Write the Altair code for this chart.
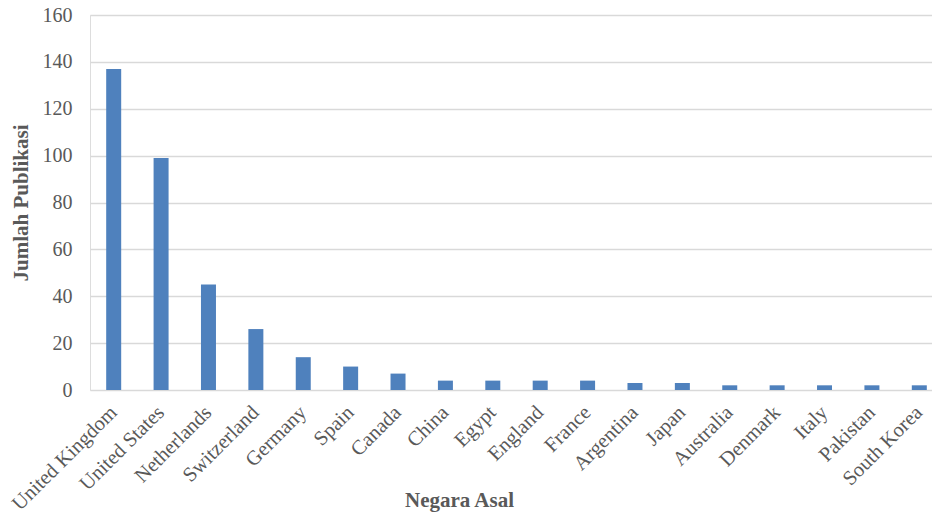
import altair as alt
import pandas as pd

countries = ["United Kingdom", "United States", "Netherlands", "Switzerland", "Germany",
             "Spain", "Canada", "China", "Egypt", "England", "France", "Argentina",
             "Japan", "Australia", "Denmark", "Italy", "Pakistan", "South Korea"]
publications = [137, 99, 45, 26, 14, 10, 7, 4, 4, 4, 4, 3, 3, 2, 2, 2, 2, 2]
y_ticks = [0, 20, 40, 60, 80, 100, 120, 140, 160]

df = pd.DataFrame({"Negara": countries, "Jumlah": publications})

FONT = "Liberation Serif"
GRAY = "#595959"

chart = alt.Chart(df).mark_bar(size=15, color="#4f81bd").encode(
    x=alt.X("Negara:N", sort=None,
            scale=alt.Scale(range=[0, 853], paddingInner=0, paddingOuter=0),
            axis=alt.Axis(title="Negara Asal", labelAngle=-45, labelAlign="right",
                          labelBaseline="middle", labelPadding=19, ticks=False, domain=False,
                          labelFont=FONT, labelFontSize=20.5, labelColor=GRAY,
                          titleFont=FONT, titleFontSize=21, titleFontWeight="bold",
                          titleColor=GRAY, titleX=369, titleY=116, titleAlign="center",
                          titleBaseline="alphabetic", labelOverlap=False)),
    y=alt.Y("Jumlah:Q", scale=alt.Scale(domain=[0, 160], nice=False),
            axis=alt.Axis(title="Jumlah Publikasi", values=y_ticks, ticks=False, domain=False,
                          labelPadding=18, labelFont=FONT, labelFontSize=20, labelColor=GRAY,
                          grid=True, gridColor="#d9d9d9", gridWidth=1.5,
                          titleFont=FONT, titleFontSize=21, titleFontWeight="bold",
                          titleColor=GRAY, titleX=-63, titleY=187.5, titleAngle=-90,
                          titleAlign="center", titleBaseline="alphabetic")),
).properties(
    width=842, height=375,
    autosize=alt.AutoSizeParams(type="none"),
    padding={"left": 90, "top": 15, "right": 0, "bottom": 125},
).configure_view(stroke=None).configure(background="white")

chart.save("out.html", embed_options={"renderer": "svg", "actions": False})
